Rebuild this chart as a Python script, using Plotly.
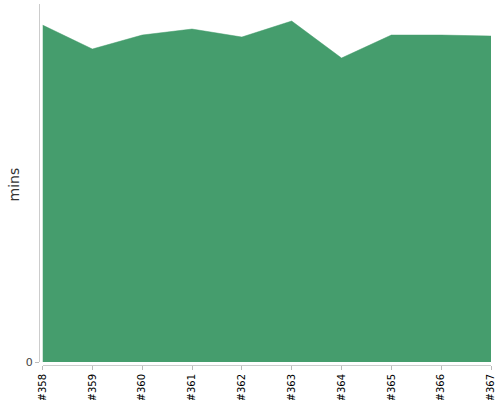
import plotly.graph_objects as go

builds = ["#358", "#359", "#360", "#361", "#362", "#363", "#364", "#365", "#366", "#367"]
minutes = [33.7, 31.3, 32.7, 33.3, 32.5, 34.1, 30.4, 32.7, 32.7, 32.6]

FONT = "DejaVu Sans"

fig = go.Figure()
fig.add_trace(go.Scatter(
    x=builds, y=minutes, mode="lines", fill="tozeroy",
    line=dict(color="#459d6d", width=0.5), fillcolor="#459d6d",
    hoverinfo="x+y",
))

fig.update_layout(
    width=500, height=400,
    margin=dict(l=39, r=9, t=4, b=35),
    paper_bgcolor="white", plot_bgcolor="white",
    showlegend=False,
    font=dict(family=FONT, color="#333"),
    xaxis=dict(
        domain=[3.5 / 452, 1], anchor="free", position=0, automargin=False,
        range=[0, 9], showgrid=False, zeroline=False,
        showline=True, linecolor="#cccccc", linewidth=1,
        ticks="outside", ticklen=4, tickcolor="#bbbbbb",
        tickangle=-90, tickfont=dict(family=FONT, size=10, color="#000"),
    ),
    yaxis=dict(
        domain=[3 / 361, 1], anchor="free", position=0, automargin=False,
        range=[0, max(minutes) * 1.05], showgrid=False, zeroline=False,
        showline=True, linecolor="#cccccc", linewidth=1,
        tickvals=[0], ticks="outside", ticklen=4, tickcolor="#bbbbbb",
        tickfont=dict(family=FONT, size=11, color="#444"),
    ),
    annotations=[dict(
        text="mins", xref="paper", yref="paper", x=-39 / 452 + 3 / 452, y=0.5,
        xanchor="left", yanchor="middle", textangle=-90, showarrow=False,
        font=dict(family=FONT, size=14, color="#333"),
    )],
)

fig.write_html("out.html", config={"displayModeBar": False},
               post_script="document.body.style.margin='0';document.body.style.padding='0';")
